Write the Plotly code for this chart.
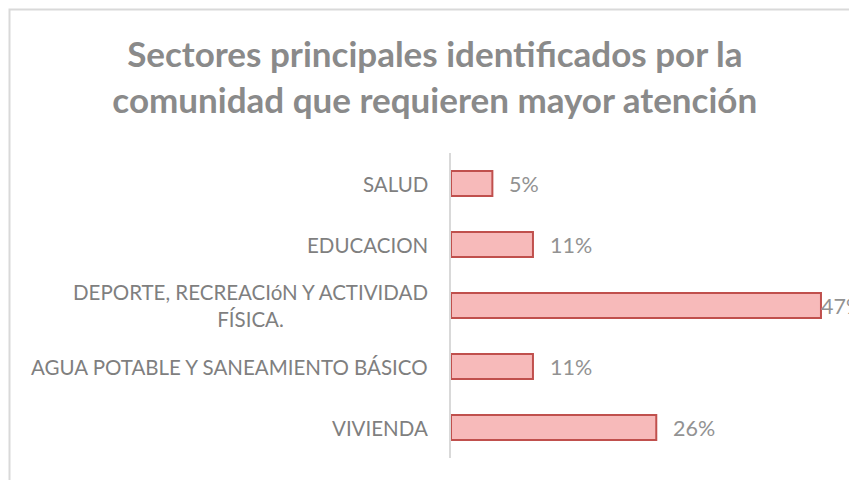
import plotly.graph_objects as go

categories = ["SALUD", "EDUCACION", "DEPORTE, RECREACIóN Y ACTIVIDAD<br>FÍSICA.",
              "AGUA POTABLE Y SANEAMIENTO BÁSICO", "VIVIENDA"]
values = [0.053, 0.105, 0.474, 0.105, 0.263]
value_labels = ["5%", "11%", "47%", "11%", "26%"]
title_text = "Sectores principales identificados por la<br>comunidad que requieren mayor atención"

FONT = "Lato, Carlito, Calibri, sans-serif"
GRAY = "#8a8a8a"

fig = go.Figure(go.Bar(
    y=categories, x=values, orientation="h", width=0.41,
    marker=dict(color="#f7baba", line=dict(color="#c0504d", width=2)),
    hoverinfo="skip",
))

for c, v, t in zip(categories, values, value_labels):
    shift = 15 if v < 0.4 else -2
    fig.add_annotation(x=v, y=c, xref="x", yref="y", text=t, showarrow=False,
                       xanchor="left", xshift=shift,
                       font=dict(family=FONT, size=21.5, color="#929292"))
    fig.add_annotation(x=0, y=c, xref="paper", yref="y", text=c, showarrow=False,
                       xanchor="right", align="center", xshift=-21,
                       font=dict(family=FONT, size=20.5, color="#7f7f7f"))

# chart frame
fig.add_shape(type="rect", xref="paper", yref="paper",
              x0=(9.5 - 451) / 393, x1=1.2, y0=-0.3, y1=(458 - 9.5) / 305,
              line=dict(color="#d9d9d9", width=2), layer="below")

fig.update_layout(
    width=857, height=480,
    margin=dict(l=443, r=21, t=145, b=30),
    paper_bgcolor="white", plot_bgcolor="white",
    title=dict(text=title_text, x=0.498, xanchor="center", y=0.877, yanchor="middle",
               font=dict(family=FONT, size=35, color=GRAY, weight="bold")),
    showlegend=False,
)
fig.update_xaxes(range=[0, 0.5035], showticklabels=False, showgrid=False, zeroline=False,
                 showline=False, fixedrange=True)
fig.update_yaxes(categoryorder="array", categoryarray=categories, autorange="reversed",
                 showticklabels=False, showgrid=False, zeroline=False,
                 showline=True, linecolor="#d9d9d9", linewidth=2, fixedrange=True)

fig.write_html("out.html")
